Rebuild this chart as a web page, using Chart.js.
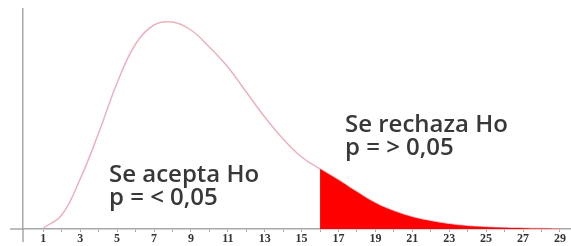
<!DOCTYPE html>
<html>
<head>
<meta charset="utf-8">
<script src="https://cdn.jsdelivr.net/npm/chart.js@4"></script>
<style>
  html, body { margin: 0; padding: 0; background: #fff; }
  #wrap { width: 571px; height: 246px; }
</style>
</head>
<body>
<div id="wrap"><canvas id="grafico"></canvas></div>
<script>
// valores (curva de densidad)
var xValues = [1, 2, 3, 4, 5, 6, 7, 8, 9, 10, 11, 12, 13, 14, 15, 16, 17, 18, 19, 20, 21, 22, 23, 24, 25, 26, 27, 28, 29];
var density = [0.0005, 0.0070, 0.0250, 0.0480, 0.0730, 0.0925, 0.1020, 0.1035, 0.0995, 0.0910, 0.0810, 0.0685, 0.0560, 0.0450, 0.0360, 0.0300,
               0.0245, 0.0185, 0.0130, 0.0090, 0.0060, 0.0040, 0.0025, 0.0015, 0.0010, 0.0006, 0.0004, 0.0002, 0.0001];
var cutoff = 16;
var tickLabels = [1, 3, 5, 7, 9, 11, 13, 15, 17, 19, 21, 23, 25, 27, 29];
var accept = ['Se acepta Ho', 'p = < 0,05'];
var reject = ['Se rechaza Ho', 'p = > 0,05'];

var curve = xValues.map(function (x, i) { return { x: x, y: density[i] }; });
var tail = curve.filter(function (p) { return p.x >= cutoff; });

var textos = {
    id: 'textos',
    afterDatasetsDraw: function (chart) {
        var ctx = chart.ctx;
        ctx.save();
        ctx.fillStyle = '#383838';
        ctx.font = '600 24px "Open Sans"';
        ctx.textBaseline = 'alphabetic';
        ctx.fillText(accept[0], 109, 182);
        ctx.fillText(accept[1], 109, 205);
        ctx.fillText(reject[0], 345, 132);
        ctx.fillText(reject[1], 345, 155);
        // prolongacion de los ejes
        var a = chart.chartArea;
        ctx.strokeStyle = '#a8a8a8';
        ctx.lineWidth = 1.5;
        ctx.beginPath();
        ctx.moveTo(10, a.bottom); ctx.lineTo(a.left, a.bottom);
        ctx.moveTo(a.left, a.bottom); ctx.lineTo(a.left, 242);
        ctx.stroke();
        ctx.restore();
    }
};

var ctx = document.getElementById('grafico').getContext('2d');
new Chart(ctx, {
    type: 'line',
    data: {
        datasets: [{
            data: tail,
            borderColor: '#ff0000',
            backgroundColor: '#ff0000',
            borderWidth: 0,
            pointRadius: 0,
            fill: 'origin',
            tension: 0.4
        }, {
            data: curve,
            borderColor: 'rgba(235, 178, 188, 1)',
            borderWidth: 1.5,
            pointRadius: 0,
            fill: false,
            tension: 0.4
        }]
    },
    options: {
        responsive: true,
        maintainAspectRatio: false,
        animation: false,
        layout: { padding: { left: 15, top: 9, right: 0, bottom: 0 } },
        plugins: { legend: { display: false }, tooltip: { enabled: false } },
        scales: {
            x: {
                type: 'linear',
                min: -0.1,
                max: 29.6,
                afterBuildTicks: function (axis) {
                    var t = [];
                    for (var v = 1; v <= 29; v++) t.push({ value: v });
                    axis.ticks = t;
                },
                ticks: {
                    autoSkip: false,
                    maxRotation: 0,
                    padding: 1,
                    color: '#333',
                    font: { family: '"Liberation Serif"', size: 12, weight: 'bold', lineHeight: 1 },
                    callback: function (v) { return tickLabels.indexOf(v) >= 0 ? String(v) : ''; }
                },
                grid: { drawOnChartArea: false, tickLength: 3, color: '#a8a8a8' },
                border: { color: '#a8a8a8', width: 1.5 }
            },
            y: {
                min: 0,
                max: 0.11,
                ticks: { display: false },
                grid: { display: false },
                border: { color: '#a8a8a8', width: 1.5 }
            }
        }
    },
    plugins: [textos]
});
</script>
</body>
</html>
